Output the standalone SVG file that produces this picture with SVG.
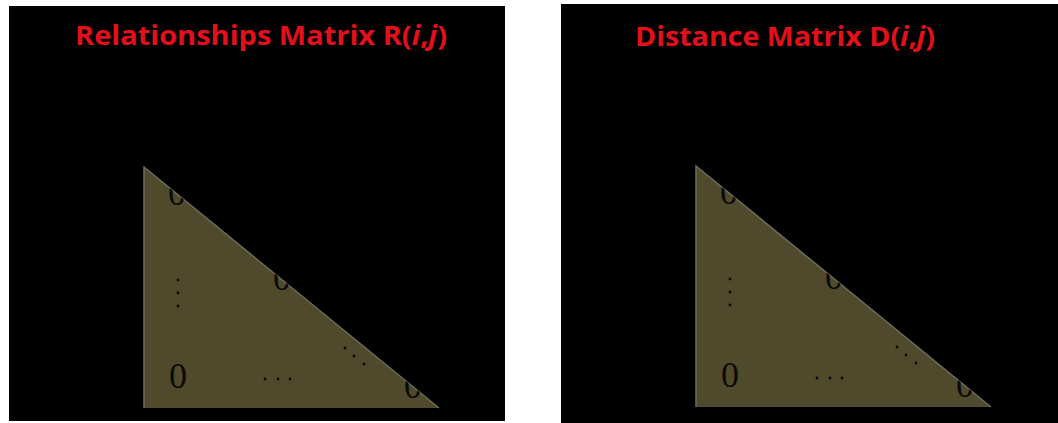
<svg xmlns="http://www.w3.org/2000/svg" width="1058" height="423" viewBox="0 0 1058 423">
  <style>
    .panel { fill: #000000; }
    .title { font-family: "Open Sans", "Noto Sans", "Liberation Sans", sans-serif; font-weight: bold; font-size: 26px; fill: #e3101b; }
    .tri { fill: #4f4a2c; }
    .edge { fill: none; stroke: #6e6c5c; stroke-width: 1.5; }
    .zero { font-family: "Liberation Serif", "DejaVu Serif", serif; font-size: 36px; fill: #0c0b06; text-anchor: middle; }
    .dot { fill: #0c0b06; }
  </style>
  <defs>
    <clipPath id="triClip">
      <polygon points="144,167 439,408 144,408"/>
    </clipPath>
    <g id="matrix">
      <polygon class="tri" points="144,167 439,408 144,408"/>
      <polyline class="edge" points="144,408 144,167 439,408"/>
      <g clip-path="url(#triClip)">
        <text class="zero" x="177" y="205">0</text>
        <text class="zero" x="282" y="290">0</text>
        <text class="zero" x="413" y="398">0</text>
      </g>
      <text class="zero" x="178" y="388">0</text>
      <circle class="dot" cx="178" cy="280" r="1.4"/>
      <circle class="dot" cx="178" cy="293" r="1.4"/>
      <circle class="dot" cx="178" cy="306" r="1.4"/>
      <circle class="dot" cx="265" cy="379" r="1.4"/>
      <circle class="dot" cx="278" cy="379" r="1.4"/>
      <circle class="dot" cx="290" cy="379" r="1.4"/>
      <circle class="dot" cx="345" cy="348" r="1.4"/>
      <circle class="dot" cx="354" cy="356" r="1.4"/>
      <circle class="dot" cx="364" cy="364" r="1.4"/>
    </g>
  </defs>
  <rect x="0" y="0" width="1058" height="423" fill="#ffffff"/>
  <g id="relationships-panel">
    <rect class="panel" x="9" y="6" width="496" height="415"/>
    <text class="title" x="75" y="45" textLength="372" lengthAdjust="spacingAndGlyphs">Relationships Matrix R(<tspan font-style="italic">i</tspan>,<tspan font-style="italic">j</tspan>)</text>
    <use href="#matrix"/>
  </g>
  <g id="distance-panel">
    <rect class="panel" x="561" y="4" width="497" height="419"/>
    <text class="title" x="635" y="46" textLength="300" lengthAdjust="spacingAndGlyphs">Distance Matrix D(<tspan font-style="italic">i</tspan>,<tspan font-style="italic">j</tspan>)</text>
    <use href="#matrix" transform="translate(552,-1)"/>
  </g>
  <g id="connectors"/>
</svg>
